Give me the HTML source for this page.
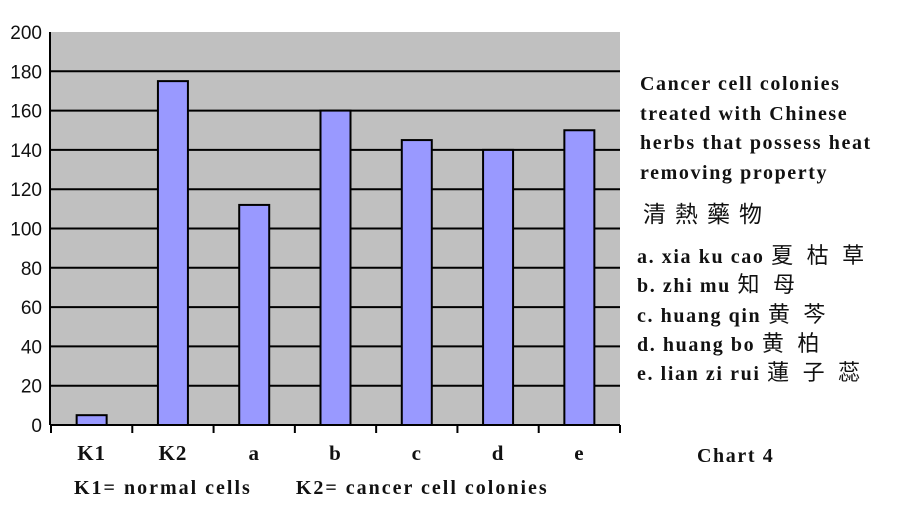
<!DOCTYPE html>
<html><head><meta charset="utf-8"><style>
body{margin:0;background:#fff;width:902px;height:509px;overflow:hidden;position:relative;font-family:"Liberation Serif","Noto Serif CJK SC",serif}
.t{position:absolute;font-weight:bold;font-size:20px;letter-spacing:1.6px;color:#111;white-space:nowrap;line-height:1}
.c{font-family:"Liberation Serif","Noto Sans CJK SC",sans-serif;font-weight:normal;font-size:22px;letter-spacing:4px;line-height:10px}
</style></head><body>
<svg id="chart" width="902" height="509" style="position:absolute;left:0;top:0"></svg>
<div class="t" style="left:640px;top:70px;line-height:29.5px">Cancer cell colonies<br>treated with Chinese<br>herbs that possess heat<br>removing property</div>
<div class="t c" style="left:643px;top:203px;font-size:23px;letter-spacing:9px;line-height:1">清熱藥物</div>
<div class="t" style="left:637px;top:243px;line-height:29.3px">a. xia ku cao <span class="c">夏 枯 草</span><br>b. zhi mu <span class="c">知 母</span><br>c. huang qin <span class="c">黄 芩</span><br>d. huang bo <span class="c">黄 柏</span><br>e. lian zi rui <span class="c">蓮 子 蕊</span></div>
<div class="t" style="left:697px;top:446px">Chart 4</div>
<div class="t" style="left:74px;top:478px;letter-spacing:2px">K1= normal cells<span style="display:inline-block;width:44px"></span>K2= cancer cell colonies</div>
<script>
const categories=["K1","K2","a","b","c","d","e"];
const values=[5,175,112,160,145,140,150];
const ticks=[0,20,40,60,80,100,120,140,160,180,200];
const svg=document.getElementById('chart');
const NS='http://www.w3.org/2000/svg';
const X0=51,X1=620,Y0=425,Y1=32;
const slot=(X1-X0)/categories.length;
const y=v=>Y0-(v/200)*(Y0-Y1);
const xc=i=>X0+slot*(i+0.5);
function mk(t,a){const e=document.createElementNS(NS,t);for(const k in a)e.setAttribute(k,a[k]);svg.appendChild(e);return e;}
let bg=mk('rect',{x:X0,y:Y1,width:X1-X0,height:Y0-Y1,fill:'#c0c0c0'});


ticks.forEach(v=>{
  if(v>0&&v<200){let g=mk('line',{x1:X0,x2:X1,y1:y(v),y2:y(v),stroke:'#000','stroke-width':2});
  
  }
  let t=mk('text',{x:42,y:y(v)+7,'text-anchor':'end','font-family':'Liberation Sans, sans-serif','font-size':19,fill:'#111'});
  t.textContent=v;
  
  
});
values.forEach((v,i)=>{
  let r=mk('rect',{x:xc(i)-15,y:y(v),width:30,height:Y0-y(v),fill:'#9999ff',stroke:'#000','stroke-width':2});
  
  
  let t=mk('text',{x:xc(i),y:460,'text-anchor':'middle','font-family':'Liberation Serif, serif','font-weight':'bold','font-size':21,'letter-spacing':1,fill:'#111'});
  t.textContent=categories[i];
  
  
});
let ax=mk('line',{x1:X0-1,x2:X0-1,y1:Y1,y2:Y0,stroke:'#000','stroke-width':2});


let bx=mk('line',{x1:X0,x2:X1,y1:Y0,y2:Y0,stroke:'#000','stroke-width':2});


for(let i=0;i<=categories.length;i++){
  let k=mk('line',{x1:X0+slot*i,x2:X0+slot*i,y1:Y0,y2:Y0+8,stroke:'#000','stroke-width':2});
  
  
}
</script>
</body></html>
